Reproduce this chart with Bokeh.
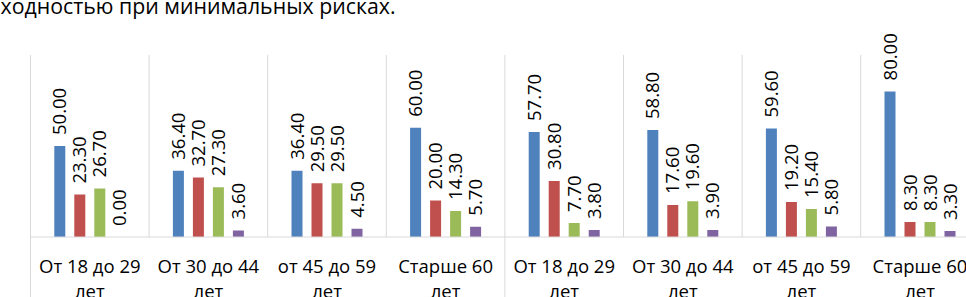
import math
from bokeh.plotting import figure
from bokeh.models import Range1d, ColumnDataSource
from bokeh.core.properties import value
from bokeh.embed import file_html
from bokeh.resources import INLINE

# ---------------- data ----------------
heading = "ходностью при минимальных рисках."
categories = ["От 18 до 29", "От 30 до 44", "от 45 до 59", "Старше 60",
              "От 18 до 29", "От 30 до 44", "от 45 до 59", "Старше 60"]
categories_line2 = ["лет", "лет", "лет", "лет", "лет", "лет", "лет", "лет"]
series1 = [50.00, 36.40, 36.40, 60.00, 57.70, 58.80, 59.60, 80.00]
series2 = [23.30, 32.70, 29.50, 20.00, 30.80, 17.60, 19.20, 8.30]
series3 = [26.70, 27.30, 29.50, 14.30, 7.70, 19.60, 15.40, 8.30]
series4 = [0.00, 3.60, 4.50, 5.70, 3.80, 3.90, 5.80, 3.30]
outer_group_size = 4
y_max = 100

# ---------------- styles ----------------
W, H = 966, 297
GW = 118.6          # px per category
X0 = 30.0           # px of first separator
BASE = 236.5        # px of baseline
PPU = 1.82          # px per value unit
colors = ["#4F81BD", "#C0504D", "#9BBB59", "#8064A2"]
offsets = [-30 / GW, -10 / GW, 10 / GW, 30 / GW]
bar_w = 11 / GW
grid_color = "#D9D9D9"
FONT = "Open Sans"

p = figure(width=W, height=H, output_backend="svg", toolbar_location=None,
           x_axis_type=None, y_axis_type=None,
           min_border=0, min_border_left=0, min_border_right=0,
           min_border_top=0, min_border_bottom=0,
           x_range=Range1d(-X0 / GW, (W - X0) / GW),
           y_range=Range1d(-(H - BASE) / PPU, BASE / PPU))
p.outline_line_color = None
p.background_fill_color = "white"
p.border_fill_color = "white"

n = len(categories)
centers = [i + 0.5 for i in range(n)]

# separators
inner_x = [float(i) for i in range(n + 1) if i % outer_group_size != 0]
outer_x = [float(i) for i in range(n + 1) if i % outer_group_size == 0]
p.segment(x0=inner_x, y0=[0] * len(inner_x), x1=inner_x, y1=[y_max] * len(inner_x),
          line_color=grid_color, line_width=1)
p.segment(x0=outer_x, y0=[-60] * len(outer_x), x1=outer_x, y1=[y_max] * len(outer_x),
          line_color=grid_color, line_width=1)

# bars
all_series = [series1, series2, series3, series4]
for s, vals in enumerate(all_series):
    xs = [c + offsets[s] for c in centers]
    src = ColumnDataSource(dict(x=xs, top=vals, lab=["%.2f" % v for v in vals]))
    p.vbar(x="x", top="top", bottom=0, width=bar_w, source=src,
           fill_color=colors[s], line_color=None)
    p.text(x="x", y="top", text="lab", source=src, angle=math.pi / 2,
           text_align="left", text_baseline="middle", y_offset=-11,
           text_font=value(FONT), text_font_size="18.5px", text_color="#000000")

# baseline
p.segment(x0=[0], y0=[0], x1=[n], y1=[0], line_color=grid_color, line_width=1)

# category labels
p.text(x=centers, y=[0] * n, text=categories, y_offset=28.5,
       text_align="center", text_baseline="alphabetic",
       text_font=value(FONT), text_font_size="18.5px", text_color="#000000")
p.text(x=centers, y=[0] * n, text=categories_line2, y_offset=53,
       text_align="center", text_baseline="alphabetic",
       text_font=value(FONT), text_font_size="18.5px", text_color="#000000")

# heading text (cut off at the top)
p.text(x=[-X0 / GW], y=[BASE / PPU], text=[heading], y_offset=5,
       text_align="left", text_baseline="alphabetic",
       text_font=value(FONT), text_font_size="21.3px", text_color="#000000")

open("out.html", "w").write(file_html(p, INLINE))
